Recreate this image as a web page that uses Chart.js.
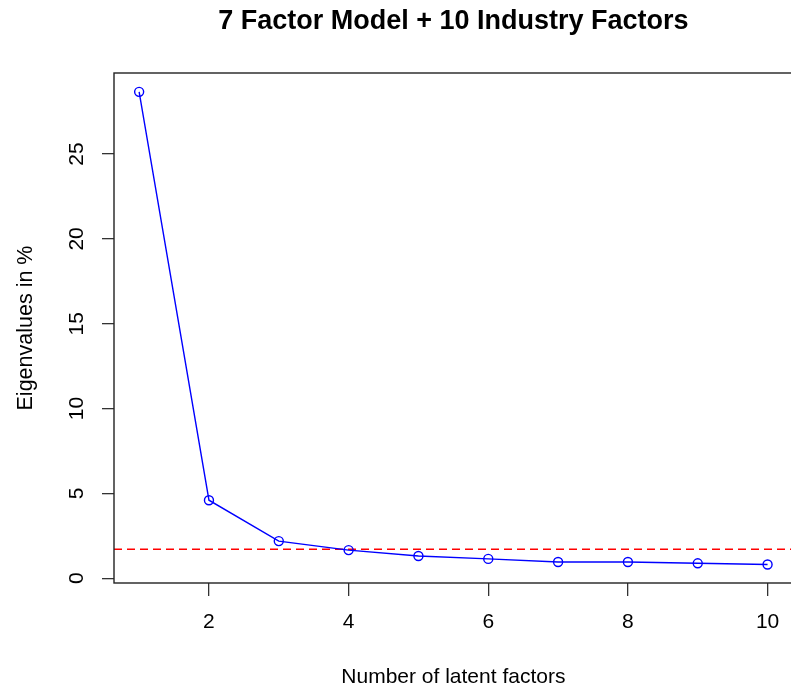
<!DOCTYPE html>
<html>
<head>
<meta charset="utf-8">
<script src="https://cdn.jsdelivr.net/npm/chart.js@4/dist/chart.umd.min.js"></script>
<style>
  html, body { margin: 0; padding: 0; background: #fff; overflow: hidden; }
  #plot { display: block; }
</style>
</head>
<body>
<canvas id="plot" width="800" height="690"></canvas>
<script>
// scree plot, R base-graphics look

var factors = [1, 2, 3, 4, 5, 6, 7, 8, 9, 10];
var eigenvalues = [28.67, 4.6, 2.19, 1.66, 1.31, 1.14, 0.96, 0.96, 0.88, 0.81];
var cutoff = 1.71;
var xTicks = [2, 4, 6, 8, 10];
var yTicks = [0, 5, 10, 15, 20, 25];

var titleText = "7 Factor Model + 10 Industry Factors";
var xTitle = "Number of latent factors";
var yTitle = "Eigenvalues in %";

var xMin = 0.64, xMax = 10.36;
var yMin = -0.28, yMax = 29.78;

var FONT = "'Liberation Sans', Arial, sans-serif";

// box, tick labels, titles
var rStyle = {
  id: "rStyle",
  afterDraw: function (chart) {
    var ctx = chart.ctx;
    var area = chart.chartArea;
    var xs = chart.scales.x, ys = chart.scales.y;
    ctx.save();
    ctx.strokeStyle = "#222";
    ctx.lineWidth = 1.4;
    ctx.strokeRect(area.left, area.top, area.right - area.left, area.bottom - area.top);

    ctx.fillStyle = "#000";
    ctx.font = "21px " + FONT;
    ctx.textAlign = "center";
    ctx.textBaseline = "alphabetic";
    xTicks.forEach(function (v) {
      ctx.fillText(String(v), xs.getPixelForValue(v), 628);
    });
    yTicks.forEach(function (v) {
      ctx.save();
      ctx.translate(83, ys.getPixelForValue(v));
      ctx.rotate(-Math.PI / 2);
      ctx.fillText(String(v), 0, 0);
      ctx.restore();
    });

    var cx = (area.left + area.right) / 2;
    ctx.fillText(xTitle, cx, 683);
    ctx.save();
    ctx.translate(32, (area.top + area.bottom) / 2);
    ctx.rotate(-Math.PI / 2);
    ctx.font = "21.5px " + FONT;
    ctx.fillText(yTitle, 0, 0);
    ctx.restore();

    ctx.font = "bold 27px " + FONT;
    ctx.fillText(titleText, cx, 29);
    ctx.restore();
  }
};

new Chart(document.getElementById("plot"), {
  type: "line",
  data: {
    datasets: [
      {
        data: factors.map(function (f, i) { return { x: f, y: eigenvalues[i] }; }),
        borderColor: "#0000ff",
        borderWidth: 1.4,
        backgroundColor: "rgba(0,0,0,0)",
        pointRadius: 4.5,
        pointBorderWidth: 1.4,
        pointBorderColor: "#0000ff",
        pointBackgroundColor: "rgba(0,0,0,0)",
        tension: 0,
        fill: false
      },
      {
        data: [{ x: xMin, y: cutoff }, { x: xMax, y: cutoff }],
        borderColor: "#ff0000",
        borderWidth: 1.6,
        borderDash: [8, 5],
        pointRadius: 0,
        fill: false
      }
    ]
  },
  options: {
    responsive: false,
    animation: false,
    events: [],
    layout: { padding: { left: 114, top: 73, right: 7.3, bottom: 107 } },
    plugins: { legend: { display: false }, tooltip: { enabled: false }, title: { display: false } },
    scales: {
      x: {
        type: "linear",
        min: xMin,
        max: xMax,
        afterBuildTicks: function (s) { s.ticks = xTicks.map(function (v) { return { value: v }; }); },
        afterFit: function (s) { s.height = 0; },
        ticks: { display: false },
        border: { display: false },
        grid: { drawOnChartArea: false, drawTicks: true, tickLength: 13, color: "#333", lineWidth: 1.3 }
      },
      y: {
        type: "linear",
        min: yMin,
        max: yMax,
        afterBuildTicks: function (s) { s.ticks = yTicks.map(function (v) { return { value: v }; }); },
        afterFit: function (s) { s.width = 0; },
        ticks: { display: false },
        border: { display: false },
        grid: { drawOnChartArea: false, drawTicks: true, tickLength: 12, color: "#333", lineWidth: 1.3 }
      }
    }
  },
  plugins: [rStyle]
});
</script>
</body>
</html>
